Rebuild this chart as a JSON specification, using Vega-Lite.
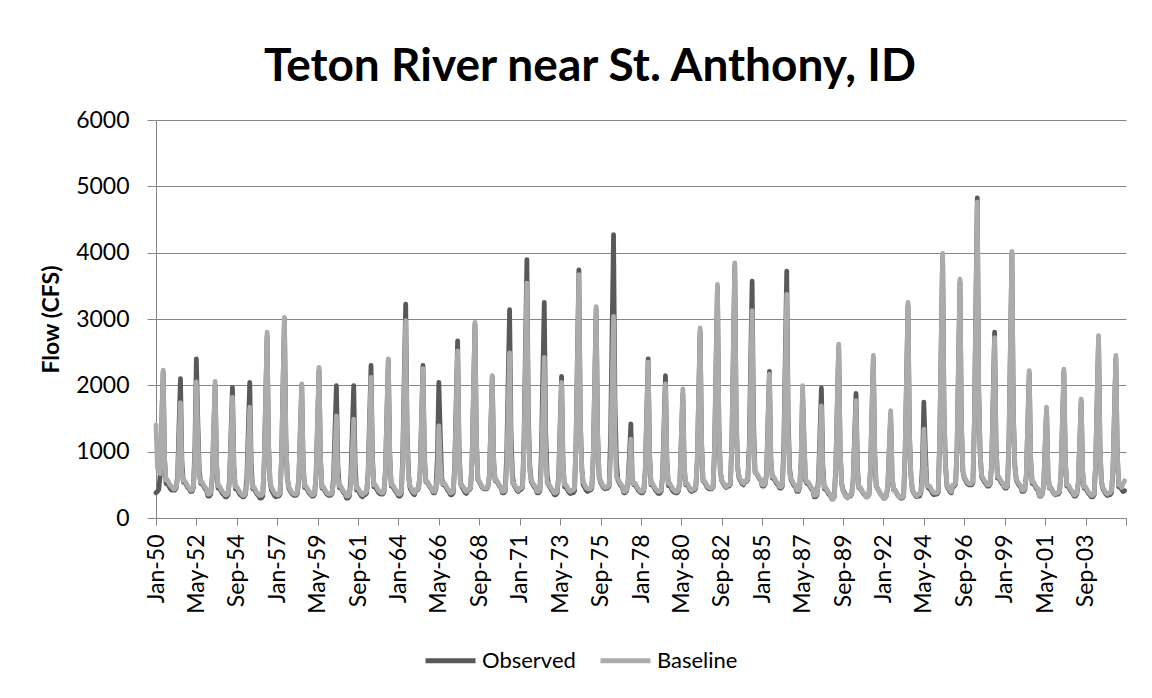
{
"$schema":"https://vega.github.io/schema/vega-lite/v6.json",
"width":970,"height":398,
"autosize":{"type":"none"},
"padding":{"left":156,"top":120,"right":26,"bottom":180},
"background":"white",
"config":{"view":{"stroke":null},"font":"Lato"},
"title":{"text":"Teton River near St. Anthony, ID","font":"Lato","fontSize":46,"fontWeight":"bold","color":"black","anchor":"middle","baseline":"alphabetic","offset":26,"dy":44,"dx":-51},
"data":{"values":[
{"d":"1950-01","o":380,"b":1400},{"d":"1950-02","o":400,"b":750},{"d":"1950-03","o":430,"b":700},{"d":"1950-04","o":660,"b":670},{"d":"1950-05","o":1430,"b":1450},{"d":"1950-06","o":2200,"b":2230},{"d":"1950-07","o":880,"b":890},{"d":"1950-08","o":520,"b":570},{"d":"1950-09","o":520,"b":570},{"d":"1950-10","o":480,"b":530},{"d":"1950-11","o":440,"b":490},{"d":"1950-12","o":420,"b":470},
{"d":"1951-01","o":420,"b":440},{"d":"1951-02","o":420,"b":440},{"d":"1951-03","o":450,"b":470},{"d":"1951-04","o":630,"b":590},{"d":"1951-05","o":1370,"b":1130},{"d":"1951-06","o":2100,"b":1740},{"d":"1951-07","o":840,"b":700},{"d":"1951-08","o":540,"b":560},{"d":"1951-09","o":540,"b":560},{"d":"1951-10","o":500,"b":520},{"d":"1951-11","o":460,"b":480},{"d":"1951-12","o":440,"b":460},
{"d":"1952-01","o":400,"b":420},{"d":"1952-02","o":400,"b":420},{"d":"1952-03","o":460,"b":480},{"d":"1952-04","o":1080,"b":920},{"d":"1952-05","o":2400,"b":2050},{"d":"1952-06","o":1440,"b":1230},{"d":"1952-07","o":720,"b":620},{"d":"1952-08","o":520,"b":540},{"d":"1952-09","o":520,"b":540},{"d":"1952-10","o":480,"b":500},{"d":"1952-11","o":440,"b":460},{"d":"1952-12","o":420,"b":440},
{"d":"1953-01","o":330,"b":360},{"d":"1953-02","o":330,"b":360},{"d":"1953-03","o":360,"b":390},{"d":"1953-04","o":600,"b":620},{"d":"1953-05","o":1300,"b":1340},{"d":"1953-06","o":2000,"b":2060},{"d":"1953-07","o":800,"b":820},{"d":"1953-08","o":450,"b":480},{"d":"1953-09","o":450,"b":480},{"d":"1953-10","o":410,"b":440},{"d":"1953-11","o":370,"b":400},{"d":"1953-12","o":350,"b":380},
{"d":"1954-01","o":320,"b":350},{"d":"1954-02","o":320,"b":350},{"d":"1954-03","o":350,"b":380},{"d":"1954-04","o":590,"b":550},{"d":"1954-05","o":1280,"b":1180},{"d":"1954-06","o":1970,"b":1820},{"d":"1954-07","o":790,"b":730},{"d":"1954-08","o":440,"b":470},{"d":"1954-09","o":440,"b":470},{"d":"1954-10","o":400,"b":430},{"d":"1954-11","o":360,"b":390},{"d":"1954-12","o":340,"b":370},
{"d":"1955-01","o":320,"b":340},{"d":"1955-02","o":320,"b":340},{"d":"1955-03","o":350,"b":370},{"d":"1955-04","o":610,"b":500},{"d":"1955-05","o":1330,"b":1090},{"d":"1955-06","o":2045,"b":1670},{"d":"1955-07","o":820,"b":670},{"d":"1955-08","o":440,"b":460},{"d":"1955-09","o":440,"b":460},{"d":"1955-10","o":400,"b":420},{"d":"1955-11","o":360,"b":380},{"d":"1955-12","o":340,"b":360},
{"d":"1956-01","o":300,"b":340},{"d":"1956-02","o":300,"b":340},{"d":"1956-03","o":330,"b":370},{"d":"1956-04","o":830,"b":840},{"d":"1956-05","o":1790,"b":1820},{"d":"1956-06","o":2750,"b":2800},{"d":"1956-07","o":1100,"b":1120},{"d":"1956-08","o":550,"b":560},{"d":"1956-09","o":420,"b":460},{"d":"1956-10","o":380,"b":420},{"d":"1956-11","o":340,"b":380},{"d":"1956-12","o":320,"b":360},
{"d":"1957-01","o":330,"b":350},{"d":"1957-02","o":330,"b":350},{"d":"1957-03","o":360,"b":380},{"d":"1957-04","o":900,"b":910},{"d":"1957-05","o":1950,"b":1970},{"d":"1957-06","o":3000,"b":3025},{"d":"1957-07","o":1200,"b":1210},{"d":"1957-08","o":600,"b":610},{"d":"1957-09","o":450,"b":470},{"d":"1957-10","o":410,"b":430},{"d":"1957-11","o":370,"b":390},{"d":"1957-12","o":350,"b":370},
{"d":"1958-01","o":340,"b":360},{"d":"1958-02","o":340,"b":360},{"d":"1958-03","o":370,"b":390},{"d":"1958-04","o":600,"b":610},{"d":"1958-05","o":1300,"b":1310},{"d":"1958-06","o":2000,"b":2020},{"d":"1958-07","o":800,"b":810},{"d":"1958-08","o":460,"b":480},{"d":"1958-09","o":460,"b":480},{"d":"1958-10","o":420,"b":440},{"d":"1958-11","o":380,"b":400},{"d":"1958-12","o":360,"b":380},
{"d":"1959-01","o":330,"b":350},{"d":"1959-02","o":330,"b":350},{"d":"1959-03","o":360,"b":380},{"d":"1959-04","o":670,"b":680},{"d":"1959-05","o":1450,"b":1480},{"d":"1959-06","o":2230,"b":2270},{"d":"1959-07","o":890,"b":910},{"d":"1959-08","o":450,"b":470},{"d":"1959-09","o":450,"b":470},{"d":"1959-10","o":410,"b":430},{"d":"1959-11","o":370,"b":390},{"d":"1959-12","o":350,"b":370},
{"d":"1960-01","o":340,"b":360},{"d":"1960-02","o":340,"b":360},{"d":"1960-03","o":370,"b":390},{"d":"1960-04","o":600,"b":510},{"d":"1960-05","o":1300,"b":1000},{"d":"1960-06","o":1995,"b":1540},{"d":"1960-07","o":800,"b":620},{"d":"1960-08","o":460,"b":480},{"d":"1960-09","o":460,"b":480},{"d":"1960-10","o":420,"b":440},{"d":"1960-11","o":380,"b":400},{"d":"1960-12","o":360,"b":380},
{"d":"1961-01","o":300,"b":330},{"d":"1961-02","o":300,"b":330},{"d":"1961-03","o":330,"b":360},{"d":"1961-04","o":600,"b":480},{"d":"1961-05","o":1300,"b":970},{"d":"1961-06","o":1995,"b":1490},{"d":"1961-07","o":800,"b":600},{"d":"1961-08","o":420,"b":450},{"d":"1961-09","o":420,"b":450},{"d":"1961-10","o":380,"b":410},{"d":"1961-11","o":340,"b":370},{"d":"1961-12","o":320,"b":350},
{"d":"1962-01","o":350,"b":380},{"d":"1962-02","o":350,"b":380},{"d":"1962-03","o":380,"b":410},{"d":"1962-04","o":690,"b":640},{"d":"1962-05","o":1500,"b":1380},{"d":"1962-06","o":2300,"b":2120},{"d":"1962-07","o":920,"b":850},{"d":"1962-08","o":470,"b":500},{"d":"1962-09","o":470,"b":500},{"d":"1962-10","o":430,"b":460},{"d":"1962-11","o":390,"b":420},{"d":"1962-12","o":370,"b":400},
{"d":"1963-01","o":360,"b":380},{"d":"1963-02","o":360,"b":380},{"d":"1963-03","o":390,"b":410},{"d":"1963-04","o":710,"b":720},{"d":"1963-05","o":1550,"b":1560},{"d":"1963-06","o":2380,"b":2400},{"d":"1963-07","o":950,"b":960},{"d":"1963-08","o":480,"b":500},{"d":"1963-09","o":480,"b":500},{"d":"1963-10","o":440,"b":460},{"d":"1963-11","o":400,"b":420},{"d":"1963-12","o":380,"b":400},
{"d":"1964-01","o":330,"b":360},{"d":"1964-02","o":330,"b":360},{"d":"1964-03","o":360,"b":390},{"d":"1964-04","o":970,"b":890},{"d":"1964-05","o":2100,"b":1930},{"d":"1964-06","o":3225,"b":2975},{"d":"1964-07","o":1290,"b":1190},{"d":"1964-08","o":650,"b":600},{"d":"1964-09","o":450,"b":480},{"d":"1964-10","o":410,"b":440},{"d":"1964-11","o":370,"b":400},{"d":"1964-12","o":350,"b":380},
{"d":"1965-01","o":420,"b":430},{"d":"1965-02","o":420,"b":430},{"d":"1965-03","o":450,"b":460},{"d":"1965-04","o":690,"b":680},{"d":"1965-05","o":1500,"b":1460},{"d":"1965-06","o":2300,"b":2250},{"d":"1965-07","o":920,"b":900},{"d":"1965-08","o":540,"b":550},{"d":"1965-09","o":540,"b":550},{"d":"1965-10","o":500,"b":510},{"d":"1965-11","o":460,"b":470},{"d":"1965-12","o":440,"b":450},
{"d":"1966-01","o":380,"b":400},{"d":"1966-02","o":380,"b":400},{"d":"1966-03","o":440,"b":460},{"d":"1966-04","o":920,"b":630},{"d":"1966-05","o":2045,"b":1390},{"d":"1966-06","o":1230,"b":830},{"d":"1966-07","o":610,"b":520},{"d":"1966-08","o":500,"b":520},{"d":"1966-09","o":500,"b":520},{"d":"1966-10","o":460,"b":480},{"d":"1966-11","o":420,"b":440},{"d":"1966-12","o":400,"b":420},
{"d":"1967-01","o":350,"b":380},{"d":"1967-02","o":350,"b":380},{"d":"1967-03","o":380,"b":410},{"d":"1967-04","o":800,"b":760},{"d":"1967-05","o":1740,"b":1640},{"d":"1967-06","o":2670,"b":2520},{"d":"1967-07","o":1070,"b":1010},{"d":"1967-08","o":530,"b":500},{"d":"1967-09","o":470,"b":500},{"d":"1967-10","o":430,"b":460},{"d":"1967-11","o":390,"b":420},{"d":"1967-12","o":370,"b":400},
{"d":"1968-01","o":420,"b":430},{"d":"1968-02","o":420,"b":430},{"d":"1968-03","o":450,"b":460},{"d":"1968-04","o":880,"b":890},{"d":"1968-05","o":1900,"b":1920},{"d":"1968-06","o":2920,"b":2950},{"d":"1968-07","o":1170,"b":1180},{"d":"1968-08","o":580,"b":590},{"d":"1968-09","o":540,"b":550},{"d":"1968-10","o":500,"b":510},{"d":"1968-11","o":460,"b":470},{"d":"1968-12","o":440,"b":450},
{"d":"1969-01","o":440,"b":450},{"d":"1969-02","o":440,"b":450},{"d":"1969-03","o":470,"b":480},{"d":"1969-04","o":640,"b":640},{"d":"1969-05","o":1380,"b":1390},{"d":"1969-06","o":2130,"b":2145},{"d":"1969-07","o":850,"b":860},{"d":"1969-08","o":560,"b":570},{"d":"1969-09","o":560,"b":570},{"d":"1969-10","o":520,"b":530},{"d":"1969-11","o":480,"b":490},{"d":"1969-12","o":460,"b":470},
{"d":"1970-01","o":380,"b":400},{"d":"1970-02","o":380,"b":400},{"d":"1970-03","o":410,"b":430},{"d":"1970-04","o":940,"b":750},{"d":"1970-05","o":2040,"b":1620},{"d":"1970-06","o":3140,"b":2490},{"d":"1970-07","o":1260,"b":1000},{"d":"1970-08","o":630,"b":520},{"d":"1970-09","o":500,"b":520},{"d":"1970-10","o":460,"b":480},{"d":"1970-11","o":420,"b":440},{"d":"1970-12","o":400,"b":420},
{"d":"1971-01","o":430,"b":450},{"d":"1971-02","o":430,"b":450},{"d":"1971-03","o":460,"b":480},{"d":"1971-04","o":1170,"b":1060},{"d":"1971-05","o":2530,"b":2300},{"d":"1971-06","o":3895,"b":3540},{"d":"1971-07","o":1560,"b":1420},{"d":"1971-08","o":780,"b":710},{"d":"1971-09","o":550,"b":570},{"d":"1971-10","o":510,"b":530},{"d":"1971-11","o":470,"b":490},{"d":"1971-12","o":450,"b":470},
{"d":"1972-01","o":380,"b":400},{"d":"1972-02","o":380,"b":400},{"d":"1972-03","o":410,"b":430},{"d":"1972-04","o":980,"b":730},{"d":"1972-05","o":2110,"b":1570},{"d":"1972-06","o":3250,"b":2420},{"d":"1972-07","o":1300,"b":970},{"d":"1972-08","o":650,"b":520},{"d":"1972-09","o":500,"b":520},{"d":"1972-10","o":460,"b":480},{"d":"1972-11","o":420,"b":440},{"d":"1972-12","o":400,"b":420},
{"d":"1973-01","o":350,"b":380},{"d":"1973-02","o":350,"b":380},{"d":"1973-03","o":380,"b":410},{"d":"1973-04","o":640,"b":610},{"d":"1973-05","o":1390,"b":1330},{"d":"1973-06","o":2135,"b":2045},{"d":"1973-07","o":850,"b":820},{"d":"1973-08","o":470,"b":500},{"d":"1973-09","o":470,"b":500},{"d":"1973-10","o":430,"b":460},{"d":"1973-11","o":390,"b":420},{"d":"1973-12","o":370,"b":400},
{"d":"1974-01","o":380,"b":420},{"d":"1974-02","o":380,"b":420},{"d":"1974-03","o":410,"b":450},{"d":"1974-04","o":1120,"b":1100},{"d":"1974-05","o":2430,"b":2390},{"d":"1974-06","o":3740,"b":3670},{"d":"1974-07","o":1500,"b":1470},{"d":"1974-08","o":750,"b":730},{"d":"1974-09","o":500,"b":540},{"d":"1974-10","o":460,"b":500},{"d":"1974-11","o":420,"b":460},{"d":"1974-12","o":400,"b":440},
{"d":"1975-01","o":420,"b":440},{"d":"1975-02","o":420,"b":440},{"d":"1975-03","o":450,"b":470},{"d":"1975-04","o":950,"b":960},{"d":"1975-05","o":2050,"b":2070},{"d":"1975-06","o":3150,"b":3185},{"d":"1975-07","o":1260,"b":1270},{"d":"1975-08","o":630,"b":640},{"d":"1975-09","o":540,"b":560},{"d":"1975-10","o":500,"b":520},{"d":"1975-11","o":460,"b":480},{"d":"1975-12","o":440,"b":460},
{"d":"1976-01","o":450,"b":470},{"d":"1976-02","o":450,"b":470},{"d":"1976-03","o":480,"b":500},{"d":"1976-04","o":1280,"b":910},{"d":"1976-05","o":2780,"b":1980},{"d":"1976-06","o":4270,"b":3040},{"d":"1976-07","o":1710,"b":1220},{"d":"1976-08","o":850,"b":610},{"d":"1976-09","o":570,"b":590},{"d":"1976-10","o":530,"b":550},{"d":"1976-11","o":490,"b":510},{"d":"1976-12","o":470,"b":490},
{"d":"1977-01","o":380,"b":400},{"d":"1977-02","o":380,"b":400},{"d":"1977-03","o":410,"b":430},{"d":"1977-04","o":530,"b":550},{"d":"1977-05","o":920,"b":770},{"d":"1977-06","o":1420,"b":1190},{"d":"1977-07","o":570,"b":520},{"d":"1977-08","o":500,"b":520},{"d":"1977-09","o":500,"b":520},{"d":"1977-10","o":460,"b":480},{"d":"1977-11","o":420,"b":440},{"d":"1977-12","o":400,"b":420},
{"d":"1978-01","o":380,"b":400},{"d":"1978-02","o":380,"b":400},{"d":"1978-03","o":410,"b":430},{"d":"1978-04","o":720,"b":710},{"d":"1978-05","o":1560,"b":1530},{"d":"1978-06","o":2400,"b":2350},{"d":"1978-07","o":960,"b":940},{"d":"1978-08","o":500,"b":520},{"d":"1978-09","o":500,"b":520},{"d":"1978-10","o":460,"b":480},{"d":"1978-11","o":420,"b":440},{"d":"1978-12","o":400,"b":420},
{"d":"1979-01","o":370,"b":400},{"d":"1979-02","o":370,"b":400},{"d":"1979-03","o":400,"b":430},{"d":"1979-04","o":640,"b":610},{"d":"1979-05","o":1390,"b":1310},{"d":"1979-06","o":2145,"b":2020},{"d":"1979-07","o":860,"b":810},{"d":"1979-08","o":490,"b":520},{"d":"1979-09","o":490,"b":520},{"d":"1979-10","o":450,"b":480},{"d":"1979-11","o":410,"b":440},{"d":"1979-12","o":390,"b":420},
{"d":"1980-01","o":380,"b":400},{"d":"1980-02","o":380,"b":400},{"d":"1980-03","o":410,"b":430},{"d":"1980-04","o":560,"b":580},{"d":"1980-05","o":1220,"b":1260},{"d":"1980-06","o":1870,"b":1945},{"d":"1980-07","o":750,"b":780},{"d":"1980-08","o":500,"b":520},{"d":"1980-09","o":500,"b":520},{"d":"1980-10","o":460,"b":480},{"d":"1980-11","o":420,"b":440},{"d":"1980-12","o":400,"b":420},
{"d":"1981-01","o":420,"b":440},{"d":"1981-02","o":420,"b":440},{"d":"1981-03","o":450,"b":470},{"d":"1981-04","o":850,"b":860},{"d":"1981-05","o":1830,"b":1860},{"d":"1981-06","o":2820,"b":2865},{"d":"1981-07","o":1130,"b":1150},{"d":"1981-08","o":560,"b":570},{"d":"1981-09","o":540,"b":560},{"d":"1981-10","o":500,"b":520},{"d":"1981-11","o":460,"b":480},{"d":"1981-12","o":440,"b":460},
{"d":"1982-01","o":440,"b":450},{"d":"1982-02","o":440,"b":450},{"d":"1982-03","o":470,"b":480},{"d":"1982-04","o":1040,"b":1060},{"d":"1982-05","o":2260,"b":2290},{"d":"1982-06","o":3480,"b":3520},{"d":"1982-07","o":1390,"b":1410},{"d":"1982-08","o":700,"b":700},{"d":"1982-09","o":560,"b":570},{"d":"1982-10","o":520,"b":530},{"d":"1982-11","o":480,"b":490},{"d":"1982-12","o":460,"b":470},
{"d":"1983-01","o":480,"b":500},{"d":"1983-02","o":480,"b":500},{"d":"1983-03","o":510,"b":530},{"d":"1983-04","o":1140,"b":1150},{"d":"1983-05","o":2470,"b":2500},{"d":"1983-06","o":3800,"b":3845},{"d":"1983-07","o":1520,"b":1540},{"d":"1983-08","o":760,"b":770},{"d":"1983-09","o":600,"b":620},{"d":"1983-10","o":560,"b":580},{"d":"1983-11","o":520,"b":540},{"d":"1983-12","o":500,"b":520},
{"d":"1984-01","o":550,"b":560},{"d":"1984-02","o":550,"b":560},{"d":"1984-03","o":580,"b":590},{"d":"1984-04","o":1070,"b":940},{"d":"1984-05","o":2320,"b":2030},{"d":"1984-06","o":3570,"b":3125},{"d":"1984-07","o":1430,"b":1250},{"d":"1984-08","o":710,"b":680},{"d":"1984-09","o":670,"b":680},{"d":"1984-10","o":630,"b":640},{"d":"1984-11","o":590,"b":600},{"d":"1984-12","o":570,"b":580},
{"d":"1985-01","o":480,"b":500},{"d":"1985-02","o":480,"b":500},{"d":"1985-03","o":510,"b":530},{"d":"1985-04","o":660,"b":650},{"d":"1985-05","o":1440,"b":1410},{"d":"1985-06","o":2210,"b":2170},{"d":"1985-07","o":880,"b":870},{"d":"1985-08","o":600,"b":620},{"d":"1985-09","o":600,"b":620},{"d":"1985-10","o":560,"b":580},{"d":"1985-11","o":520,"b":540},{"d":"1985-12","o":500,"b":520},
{"d":"1986-01","o":450,"b":470},{"d":"1986-02","o":450,"b":470},{"d":"1986-03","o":480,"b":500},{"d":"1986-04","o":1120,"b":1010},{"d":"1986-05","o":2420,"b":2190},{"d":"1986-06","o":3720,"b":3370},{"d":"1986-07","o":1490,"b":1350},{"d":"1986-08","o":740,"b":670},{"d":"1986-09","o":570,"b":590},{"d":"1986-10","o":530,"b":550},{"d":"1986-11","o":490,"b":510},{"d":"1986-12","o":470,"b":490},
{"d":"1987-01","o":400,"b":420},{"d":"1987-02","o":400,"b":420},{"d":"1987-03","o":460,"b":480},{"d":"1987-04","o":860,"b":900},{"d":"1987-05","o":1900,"b":1995},{"d":"1987-06","o":1140,"b":1200},{"d":"1987-07","o":570,"b":600},{"d":"1987-08","o":520,"b":540},{"d":"1987-09","o":520,"b":540},{"d":"1987-10","o":480,"b":500},{"d":"1987-11","o":440,"b":460},{"d":"1987-12","o":420,"b":440},
{"d":"1988-01","o":320,"b":340},{"d":"1988-02","o":320,"b":340},{"d":"1988-03","o":350,"b":370},{"d":"1988-04","o":590,"b":510},{"d":"1988-05","o":1270,"b":1100},{"d":"1988-06","o":1960,"b":1690},{"d":"1988-07","o":780,"b":680},{"d":"1988-08","o":440,"b":460},{"d":"1988-09","o":440,"b":460},{"d":"1988-10","o":400,"b":420},{"d":"1988-11","o":360,"b":380},{"d":"1988-12","o":340,"b":360},
{"d":"1989-01","o":300,"b":280},{"d":"1989-02","o":300,"b":280},{"d":"1989-03","o":330,"b":310},{"d":"1989-04","o":770,"b":790},{"d":"1989-05","o":1680,"b":1700},{"d":"1989-06","o":2580,"b":2620},{"d":"1989-07","o":1030,"b":1050},{"d":"1989-08","o":520,"b":520},{"d":"1989-09","o":420,"b":400},{"d":"1989-10","o":380,"b":360},{"d":"1989-11","o":340,"b":320},{"d":"1989-12","o":320,"b":300},
{"d":"1990-01","o":330,"b":340},{"d":"1990-02","o":330,"b":340},{"d":"1990-03","o":360,"b":370},{"d":"1990-04","o":560,"b":530},{"d":"1990-05","o":1220,"b":1150},{"d":"1990-06","o":1880,"b":1770},{"d":"1990-07","o":750,"b":710},{"d":"1990-08","o":450,"b":460},{"d":"1990-09","o":450,"b":460},{"d":"1990-10","o":410,"b":420},{"d":"1990-11","o":370,"b":380},{"d":"1990-12","o":350,"b":360},
{"d":"1991-01","o":320,"b":320},{"d":"1991-02","o":320,"b":320},{"d":"1991-03","o":350,"b":350},{"d":"1991-04","o":720,"b":740},{"d":"1991-05","o":1560,"b":1590},{"d":"1991-06","o":2400,"b":2450},{"d":"1991-07","o":960,"b":980},{"d":"1991-08","o":480,"b":490},{"d":"1991-09","o":440,"b":440},{"d":"1991-10","o":400,"b":400},{"d":"1991-11","o":360,"b":360},{"d":"1991-12","o":340,"b":340},
{"d":"1992-01","o":300,"b":300},{"d":"1992-02","o":300,"b":300},{"d":"1992-03","o":330,"b":330},{"d":"1992-04","o":470,"b":490},{"d":"1992-05","o":1010,"b":1050},{"d":"1992-06","o":1560,"b":1620},{"d":"1992-07","o":620,"b":650},{"d":"1992-08","o":420,"b":420},{"d":"1992-09","o":420,"b":420},{"d":"1992-10","o":380,"b":380},{"d":"1992-11","o":340,"b":340},{"d":"1992-12","o":320,"b":320},
{"d":"1993-01","o":300,"b":310},{"d":"1993-02","o":300,"b":310},{"d":"1993-03","o":330,"b":340},{"d":"1993-04","o":960,"b":980},{"d":"1993-05","o":2080,"b":2110},{"d":"1993-06","o":3200,"b":3250},{"d":"1993-07","o":1280,"b":1300},{"d":"1993-08","o":640,"b":650},{"d":"1993-09","o":420,"b":430},{"d":"1993-10","o":380,"b":390},{"d":"1993-11","o":340,"b":350},{"d":"1993-12","o":320,"b":330},
{"d":"1994-01","o":330,"b":360},{"d":"1994-02","o":330,"b":360},{"d":"1994-03","o":390,"b":420},{"d":"1994-04","o":790,"b":600},{"d":"1994-05","o":1745,"b":1340},{"d":"1994-06","o":1050,"b":800},{"d":"1994-07","o":520,"b":480},{"d":"1994-08","o":450,"b":480},{"d":"1994-09","o":450,"b":480},{"d":"1994-10","o":410,"b":440},{"d":"1994-11","o":370,"b":400},{"d":"1994-12","o":350,"b":380},
{"d":"1995-01","o":360,"b":380},{"d":"1995-02","o":360,"b":380},{"d":"1995-03","o":390,"b":410},{"d":"1995-04","o":1190,"b":1200},{"d":"1995-05","o":2570,"b":2590},{"d":"1995-06","o":3950,"b":3990},{"d":"1995-07","o":1580,"b":1600},{"d":"1995-08","o":790,"b":800},{"d":"1995-09","o":480,"b":500},{"d":"1995-10","o":440,"b":460},{"d":"1995-11","o":400,"b":420},{"d":"1995-12","o":380,"b":400},
{"d":"1996-01","o":480,"b":500},{"d":"1996-02","o":480,"b":500},{"d":"1996-03","o":510,"b":530},{"d":"1996-04","o":1070,"b":1080},{"d":"1996-05","o":2310,"b":2340},{"d":"1996-06","o":3560,"b":3600},{"d":"1996-07","o":1420,"b":1440},{"d":"1996-08","o":710,"b":720},{"d":"1996-09","o":600,"b":620},{"d":"1996-10","o":560,"b":580},{"d":"1996-11","o":520,"b":540},{"d":"1996-12","o":500,"b":520},
{"d":"1997-01","o":500,"b":520},{"d":"1997-02","o":500,"b":520},{"d":"1997-03","o":530,"b":550},{"d":"1997-04","o":1450,"b":1430},{"d":"1997-05","o":3140,"b":3090},{"d":"1997-06","o":4825,"b":4760},{"d":"1997-07","o":1930,"b":1900},{"d":"1997-08","o":970,"b":950},{"d":"1997-09","o":620,"b":640},{"d":"1997-10","o":580,"b":600},{"d":"1997-11","o":540,"b":560},{"d":"1997-12","o":520,"b":540},
{"d":"1998-01","o":480,"b":500},{"d":"1998-02","o":480,"b":500},{"d":"1998-03","o":510,"b":530},{"d":"1998-04","o":840,"b":820},{"d":"1998-05","o":1820,"b":1770},{"d":"1998-06","o":2800,"b":2720},{"d":"1998-07","o":1120,"b":1090},{"d":"1998-08","o":600,"b":620},{"d":"1998-09","o":600,"b":620},{"d":"1998-10","o":560,"b":580},{"d":"1998-11","o":520,"b":540},{"d":"1998-12","o":500,"b":520},
{"d":"1999-01","o":450,"b":470},{"d":"1999-02","o":450,"b":470},{"d":"1999-03","o":480,"b":500},{"d":"1999-04","o":1190,"b":1210},{"d":"1999-05","o":2590,"b":2610},{"d":"1999-06","o":3980,"b":4020},{"d":"1999-07","o":1590,"b":1610},{"d":"1999-08","o":800,"b":800},{"d":"1999-09","o":570,"b":590},{"d":"1999-10","o":530,"b":550},{"d":"1999-11","o":490,"b":510},{"d":"1999-12","o":470,"b":490},
{"d":"2000-01","o":400,"b":420},{"d":"2000-02","o":400,"b":420},{"d":"2000-03","o":430,"b":450},{"d":"2000-04","o":650,"b":670},{"d":"2000-05","o":1420,"b":1440},{"d":"2000-06","o":2180,"b":2220},{"d":"2000-07","o":870,"b":890},{"d":"2000-08","o":520,"b":540},{"d":"2000-09","o":520,"b":540},{"d":"2000-10","o":480,"b":500},{"d":"2000-11","o":440,"b":460},{"d":"2000-12","o":420,"b":440},
{"d":"2001-01","o":330,"b":340},{"d":"2001-02","o":330,"b":340},{"d":"2001-03","o":360,"b":370},{"d":"2001-04","o":490,"b":500},{"d":"2001-05","o":1070,"b":1090},{"d":"2001-06","o":1640,"b":1670},{"d":"2001-07","o":660,"b":670},{"d":"2001-08","o":450,"b":460},{"d":"2001-09","o":450,"b":460},{"d":"2001-10","o":410,"b":420},{"d":"2001-11","o":370,"b":380},{"d":"2001-12","o":350,"b":360},
{"d":"2002-01","o":360,"b":380},{"d":"2002-02","o":360,"b":380},{"d":"2002-03","o":390,"b":410},{"d":"2002-04","o":660,"b":670},{"d":"2002-05","o":1430,"b":1460},{"d":"2002-06","o":2200,"b":2245},{"d":"2002-07","o":880,"b":900},{"d":"2002-08","o":480,"b":500},{"d":"2002-09","o":480,"b":500},{"d":"2002-10","o":440,"b":460},{"d":"2002-11","o":400,"b":420},{"d":"2002-12","o":380,"b":400},
{"d":"2003-01","o":330,"b":350},{"d":"2003-02","o":330,"b":350},{"d":"2003-03","o":360,"b":380},{"d":"2003-04","o":530,"b":540},{"d":"2003-05","o":1140,"b":1170},{"d":"2003-06","o":1760,"b":1795},{"d":"2003-07","o":700,"b":720},{"d":"2003-08","o":450,"b":470},{"d":"2003-09","o":450,"b":470},{"d":"2003-10","o":410,"b":430},{"d":"2003-11","o":370,"b":390},{"d":"2003-12","o":350,"b":370},
{"d":"2004-01","o":320,"b":340},{"d":"2004-02","o":320,"b":340},{"d":"2004-03","o":350,"b":370},{"d":"2004-04","o":810,"b":830},{"d":"2004-05","o":1760,"b":1790},{"d":"2004-06","o":2700,"b":2750},{"d":"2004-07","o":1080,"b":1100},{"d":"2004-08","o":540,"b":550},{"d":"2004-09","o":440,"b":460},{"d":"2004-10","o":400,"b":420},{"d":"2004-11","o":360,"b":380},{"d":"2004-12","o":340,"b":360},
{"d":"2005-01","o":350,"b":380},{"d":"2005-02","o":350,"b":380},{"d":"2005-03","o":380,"b":410},{"d":"2005-04","o":720,"b":740},{"d":"2005-05","o":1560,"b":1590},{"d":"2005-06","o":2400,"b":2450},{"d":"2005-07","o":960,"b":980},{"d":"2005-08","o":470,"b":500},{"d":"2005-09","o":470,"b":500},{"d":"2005-10","o":430,"b":460},{"d":"2005-11","o":400,"b":520},{"d":"2005-12","o":410,"b":560}
]},
"transform":[{"fold":["o","b"],"as":["s","v"]}],
"encoding":{
 "x":{"field":"d","type":"temporal",
  "scale":{"type":"utc","domain":[{"year":1950,"month":1,"date":1,"utc":true},{"year":2006,"month":1,"date":1,"utc":true}]},
  "axis":{"title":null,"grid":false,"labelAngle":-90,"labelFont":"Lato","labelFontSize":23,"labelColor":"black","labelPadding":9,"labelOverlap":false,"labelBound":false,"labelFlush":false,"tickSize":7,"tickColor":"#868686","domainColor":"#868686","tickWidth":1,"domainWidth":1,
   "values":[{"year":1950,"month":1,"date":1,"utc":true},{"year":1952,"month":5,"date":1,"utc":true},{"year":1954,"month":9,"date":1,"utc":true},{"year":1957,"month":1,"date":1,"utc":true},{"year":1959,"month":5,"date":1,"utc":true},{"year":1961,"month":9,"date":1,"utc":true},{"year":1964,"month":1,"date":1,"utc":true},{"year":1966,"month":5,"date":1,"utc":true},{"year":1968,"month":9,"date":1,"utc":true},{"year":1971,"month":1,"date":1,"utc":true},{"year":1973,"month":5,"date":1,"utc":true},{"year":1975,"month":9,"date":1,"utc":true},{"year":1978,"month":1,"date":1,"utc":true},{"year":1980,"month":5,"date":1,"utc":true},{"year":1982,"month":9,"date":1,"utc":true},{"year":1985,"month":1,"date":1,"utc":true},{"year":1987,"month":5,"date":1,"utc":true},{"year":1989,"month":9,"date":1,"utc":true},{"year":1992,"month":1,"date":1,"utc":true},{"year":1994,"month":5,"date":1,"utc":true},{"year":1996,"month":9,"date":1,"utc":true},{"year":1999,"month":1,"date":1,"utc":true},{"year":2001,"month":5,"date":1,"utc":true},{"year":2003,"month":9,"date":1,"utc":true},{"year":2006,"month":1,"date":1,"utc":true}],
   "labelExpr":"datum.value >= 1136073600000 ? '' : utcFormat(datum.value, '%b-%y')"}},
 "y":{"field":"v","type":"quantitative","scale":{"domain":[0,6000],"nice":false},
  "axis":{"title":"Flow (CFS)","values":[0,1000,2000,3000,4000,5000,6000],"format":"d","grid":true,"gridColor":"#868686","gridWidth":1,"domainColor":"#868686","tickColor":"#868686","tickSize":9,"labelPadding":18,"labelFont":"Lato","labelFontSize":23,"labelColor":"black","titleFont":"Lato","titleFontSize":23,"titleFontWeight":"bold","titleColor":"black","titleAngle":-90,"titleX":-93,"titleY":199,"titleAlign":"center","titleBaseline":"bottom"}},
 "color":{"field":"s","type":"nominal","scale":{"domain":["o","b"],"range":["#595959","#ababab"]},
  "legend":{"title":null,"orient":"none","legendX":267,"legendY":513,"direction":"horizontal","symbolType":"stroke","symbolSize":2500,"symbolStrokeWidth":5,"labelFont":"Lato","labelFontSize":22,"labelColor":"black","labelOffset":4,"columnPadding":14,"labelExpr":"datum.value == 'o' ? 'Observed' : 'Baseline'"}}
},
"layer":[
 {"transform":[{"filter":"datum.s == 'o'"}],"mark":{"type":"line","strokeWidth":4.8,"strokeJoin":"round","strokeCap":"round"}},
 {"transform":[{"filter":"datum.s == 'b'"}],"mark":{"type":"line","strokeWidth":4.8,"strokeJoin":"round","strokeCap":"round"}}
]
}
